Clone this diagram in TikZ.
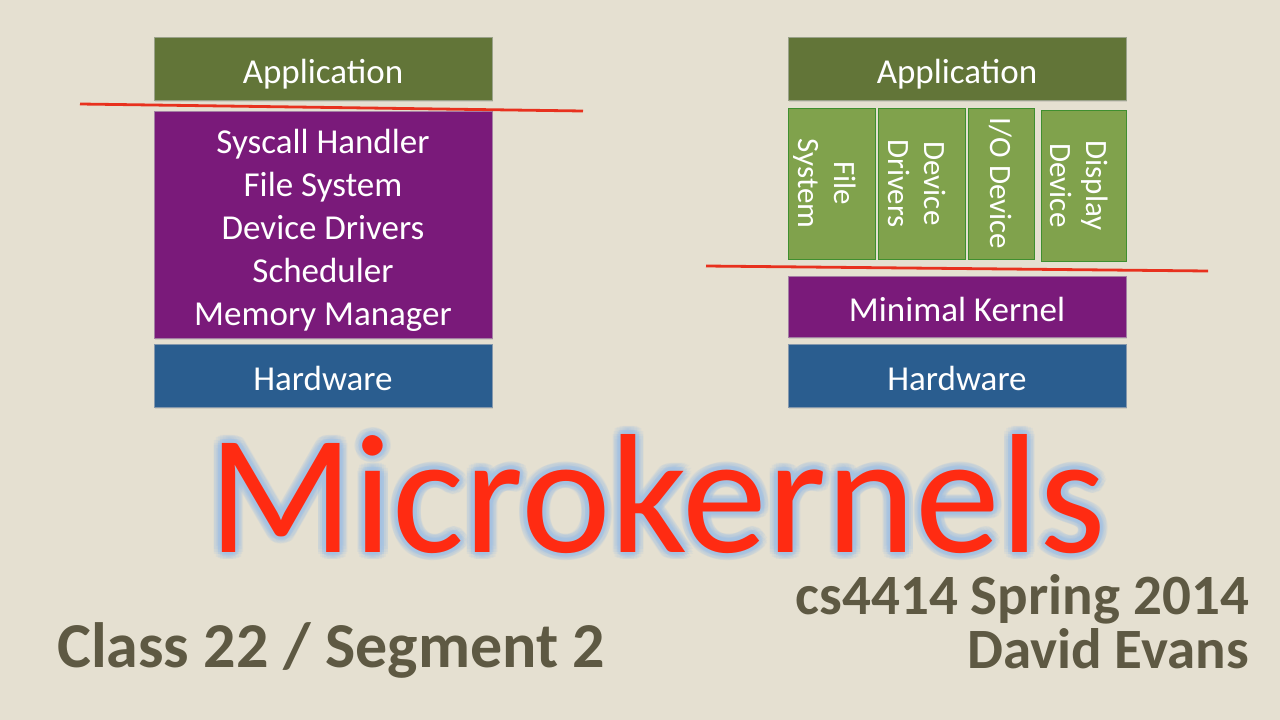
\documentclass[tikz,border=0pt]{standalone}
\usepackage{fontspec}
\setmainfont{Carlito}
\usetikzlibrary{shadows}

\definecolor{bg}{HTML}{E5E0D1}
\definecolor{appgreen}{HTML}{627538}
\definecolor{kpurple}{HTML}{7A1A7A}
\definecolor{hwblue}{HTML}{2A5D8F}
\definecolor{srvgreen}{HTML}{80A24C}
\definecolor{srvedge}{HTML}{3F8F2F}
\definecolor{cutred}{HTML}{E8311E}
\definecolor{titlered}{HTML}{FF2B12}
\definecolor{glowblue}{HTML}{A3C2E4}
\definecolor{infogrey}{HTML}{5E5943}

\tikzset{
  layer/.style={fill=#1, draw=#1!55!gray!70!white, line width=0.8pt,
    minimum width=338pt, inner sep=0pt, text=white, align=center,
    font=\fontsize{35}{43}\selectfont, text height=29pt, text depth=0pt,
    drop shadow={shadow xshift=1pt, shadow yshift=-2pt, opacity=0.2}},
  srvbox/.style={fill=srvgreen, draw=srvedge, line width=0.8pt,
    rotate=-90, inner sep=0pt, text=white, align=center, text depth=0pt,
    font=\fontsize{31}{36}\selectfont},
  twoline/.style={text height=66pt},
  cut/.style={draw=cutred, line width=2.8pt},
  titletxt/.style={text=titlered, font=\fontsize{170}{170}\selectfont, anchor=base, inner sep=0pt},
  glowtxt/.style={titletxt, text=glowblue, text opacity=#1},
  info/.style={text=infogrey, font=\fontsize{#1}{#1}\selectfont\bfseries, inner sep=0pt}
}

\begin{document}
\begin{tikzpicture}[x=1pt, y=-1pt]
  \fill[bg] (0,0) rectangle (1280,720);
  \useasboundingbox (0,0) rectangle (1280,720);

  \begin{scope}
    \node[layer=appgreen, minimum height=63pt] (appL) at (323,68.5) {Application};
    \node[layer=kpurple, minimum height=227pt, text height=201pt] (kernL) at (323,224.5)
      {Syscall Handler\\File System\\Device Drivers\\Scheduler\\Memory Manager};
    \node[layer=hwblue, minimum height=63pt] (hwL) at (323,375.5) {Hardware};
    \draw[cut] (80,104) -- (583,111);
  \end{scope}

  \begin{scope}
    \node[layer=appgreen, minimum height=63pt] (appR) at (957,68.5) {Application};
    \node[srvbox, twoline, minimum width=151pt, minimum height=87pt] (fs) at (831.5,183.5) {File\\System};
    \node[srvbox, twoline, minimum width=151pt, minimum height=87pt] (dd) at (921.5,183.5) {Device\\Drivers};
    \node[srvbox, minimum width=151pt, minimum height=66pt] (io) at (1001,183.5) {I/O Device};
    \node[srvbox, twoline, minimum width=151pt, minimum height=85pt] (disp) at (1083.5,185.5) {Display\\Device};
    \draw[cut] (706,266) -- (1208,271);
    \node[layer=kpurple, minimum height=61pt] (mink) at (957,306.5) {Minimal Kernel};
    \node[layer=hwblue, minimum height=63pt] (hwR) at (957,375.5) {Hardware};
  \end{scope}

  \foreach \a in {0,20,...,340}
    \node[glowtxt=0.15] at ([shift={(\a:8)}]657,552) {Microkernels};
  \foreach \a in {0,30,...,330}
    \node[glowtxt=0.3] at ([shift={(\a:4)}]657,552) {Microkernels};
  \node[titletxt] (mk) at (657,552) {Microkernels};

  \node[info=64, anchor=base west] (cls) at (57,667) {Class 22 / Segment 2};
  \node[info=57, anchor=base east] (crs) at (1249,614) {cs4414 Spring 2014};
  \node[info=57, anchor=base east] (who) at (1249,668) {David Evans};
\end{tikzpicture}
\end{document}
